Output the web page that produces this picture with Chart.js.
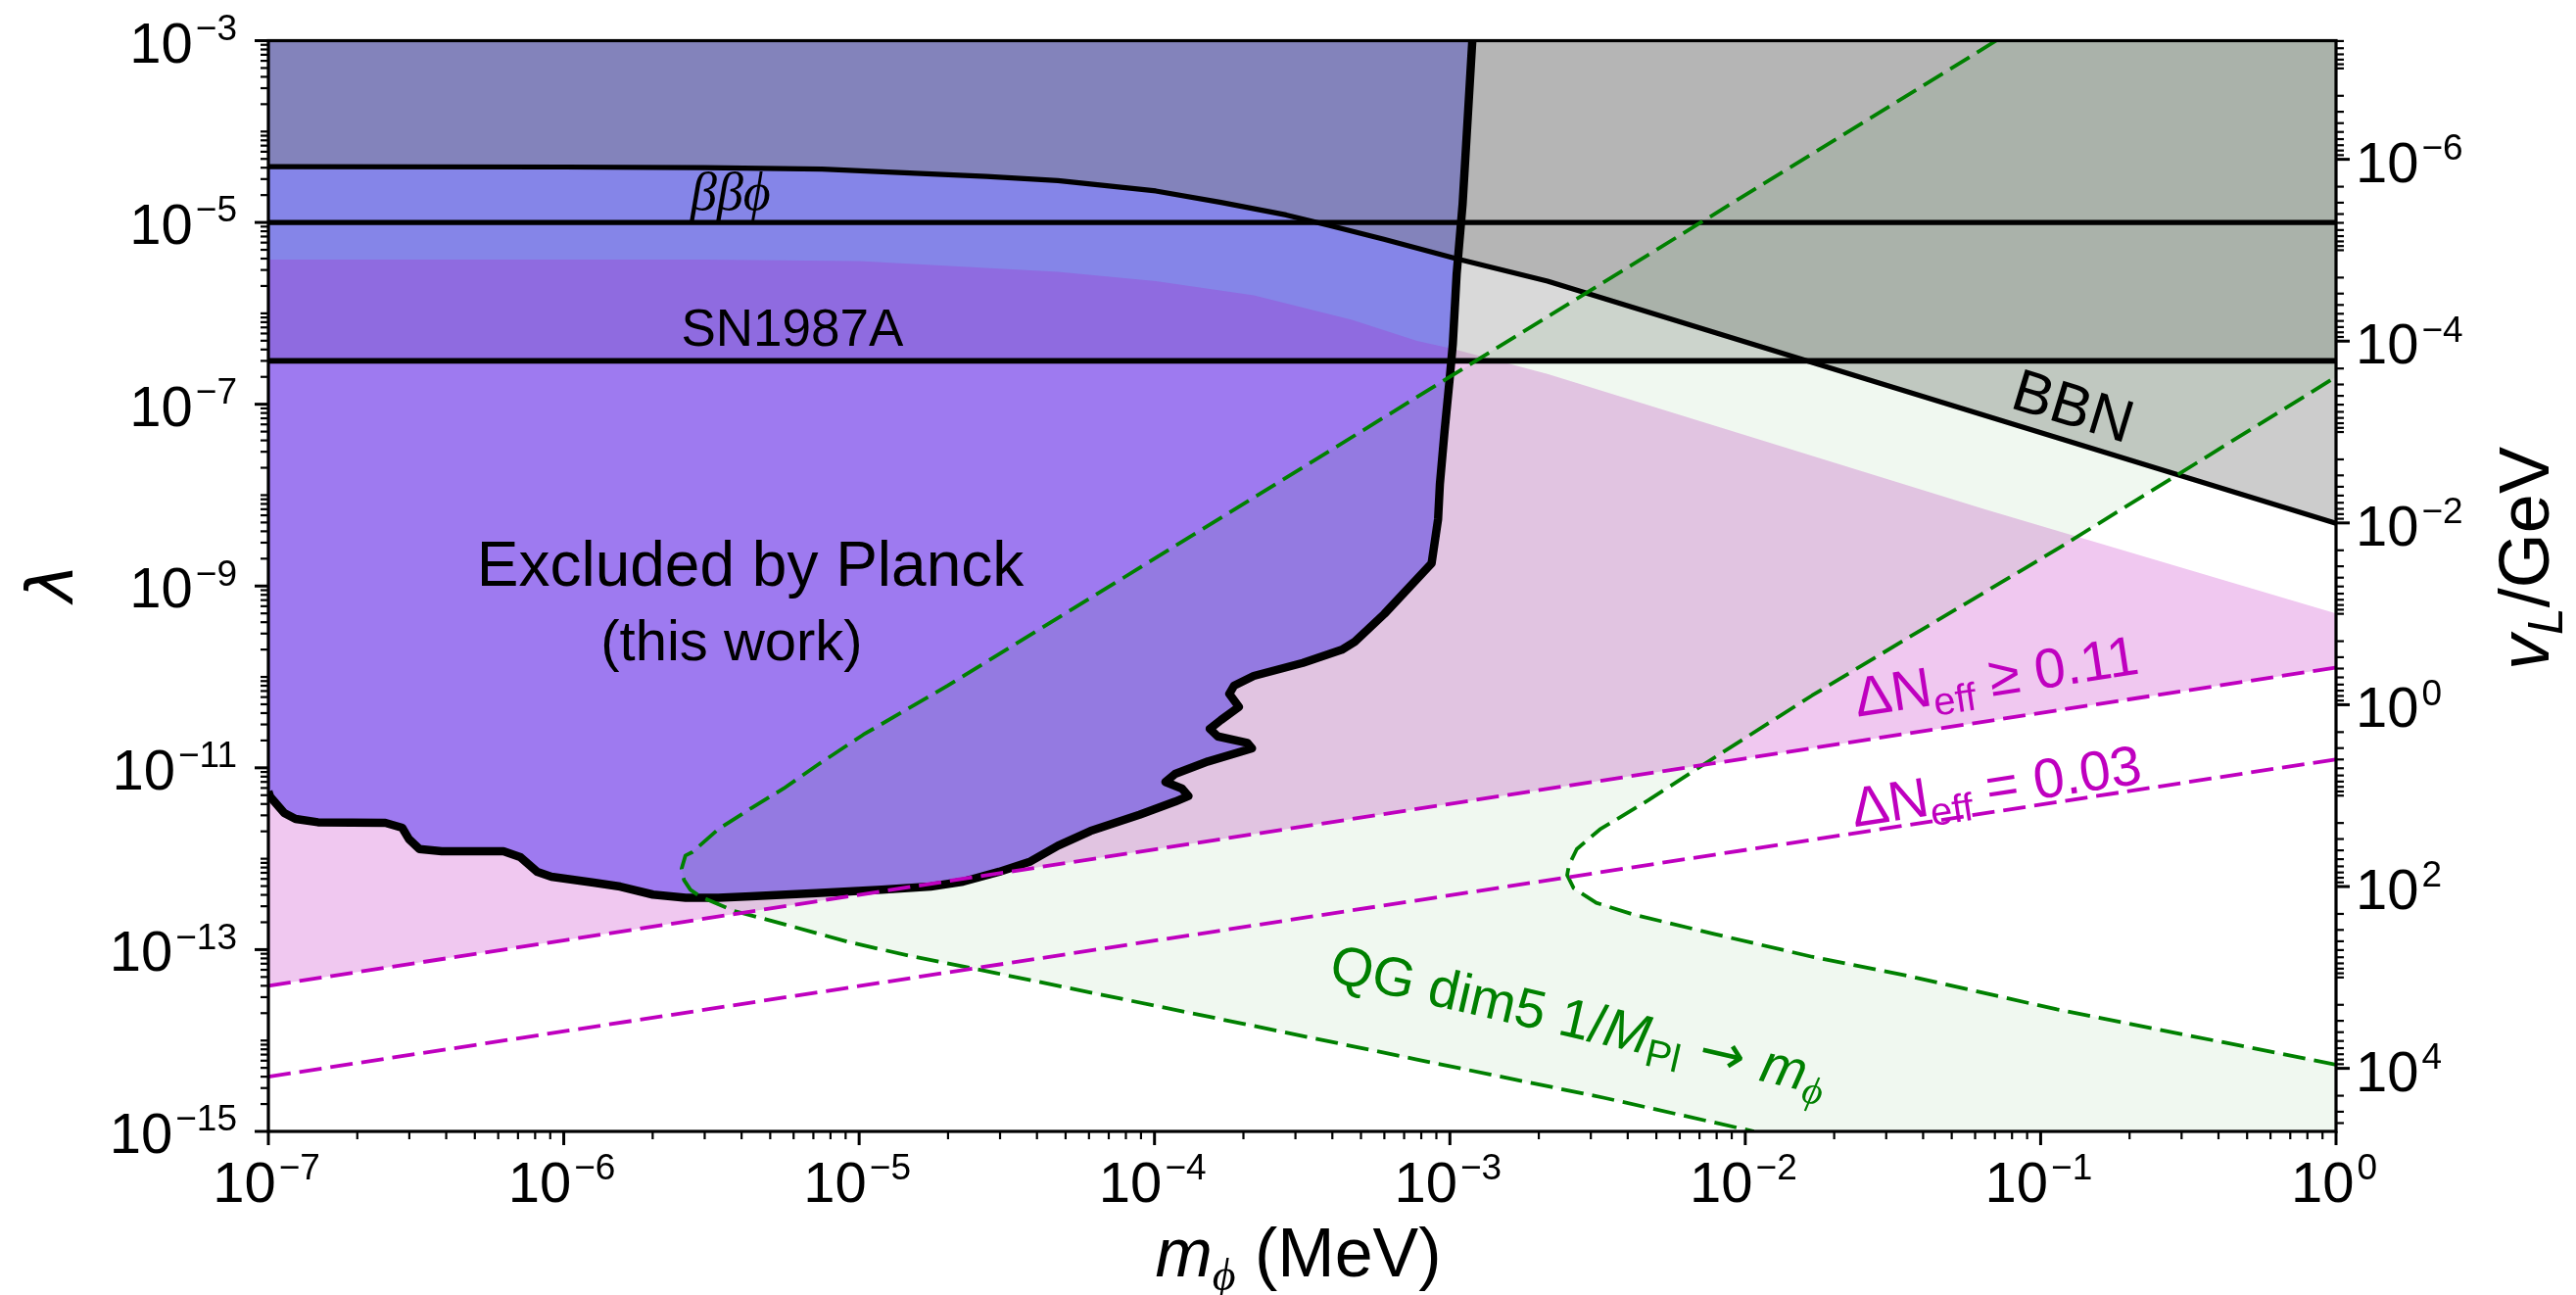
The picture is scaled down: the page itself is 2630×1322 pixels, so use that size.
<!DOCTYPE html>
<html>
<head>
<meta charset="utf-8">
<script src="https://cdn.jsdelivr.net/npm/chart.js@4.4.1/dist/chart.umd.min.js"></script>
<style>
html,body{margin:0;padding:0;background:#fff;}
#wrap{width:2630px;height:1322px;position:relative;}
</style>
</head>
<body>
<div id="wrap"><canvas id="c" width="2630" height="1322"></canvas></div>
<script>
// ---------------- data (m_phi in MeV, lambda) ----------------
const X_MIN = 1e-7, X_MAX = 1, Y_MIN = 1e-15, Y_MAX = 1e-3;
const VL_TOP = 4.95e-8, VL_BOTTOM = 4.94e4;           // right axis v_L/GeV limits

const xTickExp = [-7, -6, -5, -4, -3, -2, -1, 0];
const yTickExp = [-15, -13, -11, -9, -7, -5, -3];
const vlTickExp = [-6, -4, -2, 0, 2, 4];

// Planck exclusion boundary (thick black)
const planckCurve = [
 [1e-7,5.50e-12],[1.014e-7,4.81e-12],[1.132e-7,3.18e-12],[1.236e-7,2.74e-12],[1.472e-7,2.52e-12],
 [2.489e-7,2.48e-12],[2.838e-7,2.19e-12],[2.992e-7,1.64e-12],[3.243e-7,1.28e-12],[3.864e-7,1.21e-12],
 [6.25e-7,1.21e-12],[7.13e-7,1.04e-12],[8.13e-7,7.18e-13],[9.08e-7,6.34e-13],[1.262e-6,5.46e-13],
 [1.552e-6,4.94e-13],[2.005e-6,4.03e-13],[2.588e-6,3.71e-13],[3.334e-6,3.71e-13],[4.305e-6,3.85e-13],
 [7.16e-6,4.19e-13],[1.191e-5,4.55e-13],[1.746e-5,4.94e-13],[2.249e-5,5.60e-13],[2.979e-5,7.18e-13],
 [3.80e-5,9.33e-13],[4.71e-5,1.39e-12],[6.07e-5,2.02e-12],[8.89e-5,3.05e-12],[1.175e-4,4.25e-12],
 [1.303e-4,4.89e-12],[1.239e-4,5.92e-12],[1.089e-4,6.98e-12],[1.175e-4,8.57e-12],[1.517e-4,1.175e-11],
 [2.138e-4,1.637e-11],[2.061e-4,1.884e-11],[1.637e-4,2.218e-11],[1.538e-4,2.685e-11],[1.679e-4,3.357e-11],
 [1.932e-4,4.677e-11],[1.791e-4,6.516e-11],[1.858e-4,8.0e-11],[2.168e-4,1.026e-10],[3.177e-4,1.426e-10],
 [4.305e-4,1.991e-10],[4.764e-4,2.443e-10],[5.998e-4,4.93e-10],[8.67e-4,1.778e-9],[9.02e-4,4.25e-9],
 [9.12e-4,5.43e-9],[9.25e-4,1.327e-8],[9.59e-4,4.99e-8],[9.98e-4,1.884e-7],
 [1.023e-3,4.57e-7],[1.054e-3,2.69e-6],[1.104e-3,1.58e-5],[1.191e-3,1e-3]
];
// where the Planck edge meets the SN line, the Delta N_eff top edge and the BBN line
const snCross = [1.011e-3, 3e-7];
const pinkCross = [1.020e-3, 4.07e-7];
const bbnCross = [1.065e-3, 3.95e-6];

// BBN bound
const bbnLine = [
 [1e-7,4.1e-5],[1e-6,4.07e-5],[3e-6,4.0e-5],[7.5e-6,3.86e-5],[2.7e-5,3.2e-5],[4.71e-5,2.89e-5],
 [1.01e-4,2.22e-5],[1.68e-4,1.66e-5],[2.79e-4,1.21e-5],[3.89e-4,9.3e-6],[5.98e-4,6.52e-6],
 [1.05e-3,4.0e-6],[2.14e-3,2.26e-6],[1,4.9e-9]
];
// upper edge of the Delta N_eff >= 0.11 region
const pinkTop = [
 [1e-7,3.9e-6],[3e-6,3.9e-6],[1e-5,3.75e-6],[4.71e-5,2.86e-6],[1.01e-4,2.26e-6],[2.17e-4,1.58e-6],
 [4.66e-4,8.5e-7],[7.74e-4,4.99e-7],[1.02e-3,4.07e-7],[2.14e-3,2.15e-7],[6.49e-2,6.97e-9],[1,5.0e-10]
];
// Delta N_eff lines
const neff011 = [[1e-7,4.0e-14],[1,1.27e-10]];
const neff003 = [[1e-7,4.0e-15],[1,1.24e-11]];
// horizontal bounds
const snLine = [[1e-7,3e-7],[1,3e-7]];
const bbphiLine = [[1e-7,1e-5],[1,1e-5]];
// QG dim5 curves (green dashed)
const qgA = [
 [0.0707,1e-3],[7.83e-5,1.227e-9],[1.995e-5,8.02e-11],[1.033e-5,2.317e-11],[7.16e-6,1.054e-11],
 [5.55e-6,5.92e-12],[4.31e-6,3.60e-12],[3.33e-6,2.10e-12],[2.72e-6,1.178e-12],[2.582e-6,1.084e-12],
 [2.506e-6,7.78e-13],[2.553e-6,5.83e-13],[2.685e-6,4.55e-13],[2.897e-6,3.85e-13],[3.78e-6,2.66e-13],
 [5.55e-6,1.91e-13],[9.23e-6,1.21e-13],[1.535e-5,8.34e-14],[2.904e-5,5.52e-14],[1.977e-4,1.538e-14],
 [7.73e-4,6.19e-15],[3.33e-3,2.34e-15],[1.07e-2,1e-15]
];
const qgB = [
 [1,5.43e-15],[0.1135,2.198e-14],[3.61e-2,5.08e-14],[1.683e-2,8.34e-14],[7.83e-3,1.489e-13],
 [4.15e-3,2.45e-13],[3.13e-3,3.27e-13],[2.624e-3,4.74e-13],[2.495e-3,6.61e-13],[2.529e-3,8.47e-13],
 [2.69e-3,1.279e-12],[3.22e-3,2.10e-12],[4.71e-3,4.43e-12],[7.26e-3,1.099e-11],[1.683e-2,6.25e-11],
 [3.61e-2,2.77e-10],[0.1135,2.54e-9],[1,2.0e-7]
];

// ---------------- regions built from the arrays ----------------
const TL = [X_MIN, Y_MAX], TR = [X_MAX, Y_MAX], BR = [X_MAX, Y_MIN];
const planckAbove = (lam) => planckCurve.filter(p => p[1] > lam);
const pinkRegion = [...pinkTop, neff011[1], neff011[0]];
const snRegion = [snLine[0], snLine[1], TR, TL];
const bbnRegion = [...bbnLine, TR, TL];
const planckD = [...planckCurve, TL];
const planckC = [snLine[0], snCross, ...planckAbove(snCross[1]), TL];
const planckB = [...pinkTop.filter(p => p[0] <= pinkCross[0]), ...planckAbove(pinkCross[1]), TL];
const planckA = [...bbnLine.filter(p => p[0] < bbnCross[0]), bbnCross, ...planckAbove(bbnCross[1]), TL];
const qgRegion = [...qgA, BR, ...qgB, TR];

const xy = a => a.map(p => ({x: p[0], y: p[1]}));
function region(d, color, order) {
  return {data: xy(d), backgroundColor: color, borderColor: 'rgba(0,0,0,0)', borderWidth: 0,
          fill: 'shape', pointRadius: 0, order, clip: 0, tension: 0};
}
function curve(d, color, width, dash, order) {
  return {data: xy(d), borderColor: color, borderWidth: width, borderDash: dash || [],
          backgroundColor: 'rgba(0,0,0,0)', fill: false, pointRadius: 0, order, clip: 0, tension: 0,
          borderCapStyle: 'butt', borderJoinStyle: 'round'};
}
const MAG = '#bf00bf', GRN = '#008000', DASH = [23, 9];
const datasets = [
  region(pinkRegion, 'rgb(240,200,240)', 40),
  region(snRegion, 'rgba(128,128,128,0.3)', 39),
  region(bbnRegion, 'rgba(128,128,128,0.4)', 38),
  region(planckD, 'rgb(158,122,240)', 37),
  region(planckC, 'rgb(143,107,224)', 36),
  region(planckB, 'rgb(133,133,232)', 35),
  region(planckA, 'rgb(131,131,187)', 34),
  region(qgRegion, 'rgba(0,128,0,0.06)', 33),
  curve(bbphiLine, '#000', 5.2, null, 12),
  curve(snLine, '#000', 5.8, null, 11),
  curve(bbnLine, '#000', 5.2, null, 10),
  curve(planckCurve, '#000', 8.5, null, 9),
  curve(qgB, GRN, 3.8, DASH, 8),
  curve(qgA, GRN, 3.8, DASH, 7),
  curve(neff003, MAG, 3.8, DASH, 6),
  curve(neff011, MAG, 3.8, DASH, 5)
];

// ---------------- text helpers ----------------
const SANS = '"Liberation Sans", Arial, Helvetica, sans-serif';
const SERIF = '"Liberation Serif", "DejaVu Serif", serif';
function runs(ctx, list, x, y, opt) {
  opt = opt || {};
  ctx.save();
  ctx.translate(x, y);
  if (opt.rot) ctx.rotate(opt.rot * Math.PI / 180);
  ctx.fillStyle = opt.color || '#000';
  ctx.textBaseline = 'alphabetic';
  ctx.textAlign = 'left';
  const w = list.map(r => { ctx.font = r.f; return ctx.measureText(r.t).width + (r.dx || 0); });
  const total = w.reduce((s, v) => s + v, 0);
  let cx = opt.align === 'center' ? -total / 2 : (opt.align === 'right' ? -total : 0);
  const by = opt.by || 0;
  list.forEach((r, i) => { ctx.font = r.f; ctx.fillText(r.t, cx + (r.dx || 0), by + (r.dy || 0)); cx += w[i]; });
  ctx.restore();
}
function powLabel(e) {
  const s = e < 0 ? '\u2212' + (-e) : String(e);
  return [{t: '10', f: '58px ' + SANS}, {t: s, f: '37px ' + SANS, dy: -22.6, dx: 3}];
}

const annotations = [
  {x: 3.67e-6, y: 1.38e-5, rot: 0, color: '#000', by: 0,
   list: [{t: '\u03b2\u03b2\u03d5', f: 'italic 54px ' + SERIF}]},
  {x: 5.94e-6, y: 4.40e-7, rot: 0, color: '#000', by: 0,
   list: [{t: 'SN1987A', f: '53px ' + SANS}]},
  {x: 4.28e-6, y: 1.007e-9, rot: 0, color: '#000', by: 0,
   list: [{t: 'Excluded by Planck', f: '64px ' + SANS}]},
  {x: 3.70e-6, y: 1.53e-10, rot: 0, color: '#000', by: 0,
   list: [{t: '(this work)', f: '58px ' + SANS}]},
  {x: 0.129, y: 9.68e-8, rot: 17, color: '#000', by: 21,
   list: [{t: 'BBN', f: '61px ' + SANS}]},
  {x: 0.0706, y: 1.03e-10, rot: -8.7, color: MAG, by: 20,
   list: [{t: '\u0394N', f: '57px ' + SANS}, {t: 'eff', f: '40px ' + SANS, dy: 11},
          {t: ' \u2265 0.11', f: '57px ' + SANS}]},
  {x: 0.0706, y: 6.38e-12, rot: -8.7, color: MAG, by: 20,
   list: [{t: '\u0394N', f: '57px ' + SANS}, {t: 'eff', f: '40px ' + SANS, dy: 11},
          {t: ' = 0.03', f: '57px ' + SANS}]},
  {x: 2.74e-3, y: 1.73e-14, rot: 13, color: GRN, by: 20,
   list: [{t: 'QG dim5 1/', f: '56px ' + SANS}, {t: 'M', f: 'italic 56px ' + SANS},
          {t: 'Pl', f: '40px ' + SANS, dy: 11}, {t: ' \u2192 ', f: '56px "DejaVu Sans", sans-serif'},
          {t: 'm', f: 'italic 56px ' + SANS}, {t: '\u03d5', f: 'italic 40px ' + SERIF, dy: 11}]}
];

const decor = {
  id: 'decor',
  afterDatasetsDraw(chart) {
    const ctx = chart.ctx, a = chart.chartArea;
    const sx = chart.scales.x, sy = chart.scales.y, sv = chart.scales.y2;
    // annotations
    annotations.forEach(an => {
      runs(ctx, an.list, sx.getPixelForValue(an.x), sy.getPixelForValue(an.y),
           {align: 'center', rot: an.rot, color: an.color, by: an.by});
    });
    ctx.save();
    ctx.strokeStyle = '#000';
    // frame
    ctx.lineWidth = 3.2;
    ctx.strokeRect(a.left, a.top, a.right - a.left, a.bottom - a.top);
    const tick = (x1, y1, x2, y2, w) => { ctx.lineWidth = w; ctx.beginPath(); ctx.moveTo(x1, y1); ctx.lineTo(x2, y2); ctx.stroke(); };
    // x ticks
    for (let k = -7; k <= 0; k++) {
      const px = sx.getPixelForValue(Math.pow(10, k));
      tick(px, a.bottom, px, a.bottom + 14, 3);
      if (k < 0) for (let j = 2; j <= 9; j++) {
        const p2 = sx.getPixelForValue(j * Math.pow(10, k));
        tick(p2, a.bottom, p2, a.bottom + 8, 2.2);
      }
    }
    // left y ticks
    for (let k = -15; k <= -3; k++) {
      for (let j = 1; j <= 9; j++) {
        const v = j * Math.pow(10, k);
        if (v > Y_MAX * 1.0001) continue;
        const py = sy.getPixelForValue(v);
        const major = (j === 1 && yTickExp.includes(k));
        tick(a.left, py, a.left - (major ? 14 : 8), py, major ? 3 : 2.2);
      }
    }
    // right y ticks (v_L)
    for (let k = -8; k <= 4; k++) {
      for (let j = 1; j <= 9; j++) {
        const v = j * Math.pow(10, k);
        if (v < VL_TOP || v > VL_BOTTOM) continue;
        const py = sv.getPixelForValue(v);
        const major = (j === 1 && vlTickExp.includes(k));
        tick(a.right, py, a.right + (major ? 14 : 8), py, major ? 3 : 2.2);
      }
    }
    ctx.restore();
    // tick labels
    xTickExp.forEach(e => runs(ctx, powLabel(e), sx.getPixelForValue(Math.pow(10, e)) - 2, a.bottom + 72, {align: 'center'}));
    yTickExp.forEach(e => runs(ctx, powLabel(e), a.left - 32, sy.getPixelForValue(Math.pow(10, e)) + 22, {align: 'right'}));
    vlTickExp.forEach(e => runs(ctx, powLabel(e), a.right + 20, sv.getPixelForValue(Math.pow(10, e)) + 23, {align: 'left'}));
    // axis titles
    runs(ctx, [{t: 'm', f: 'italic 70px ' + SANS}, {t: '\u03d5', f: 'italic 46px ' + SERIF, dy: 14},
               {t: ' (MeV)', f: '70px ' + SANS}], (a.left + a.right) / 2 - 4, 1303, {align: 'center'});
    runs(ctx, [{t: '\u03bb', f: 'italic 66px "DejaVu Sans", sans-serif'}], 74, (a.top + a.bottom) / 2 - 3,
         {align: 'center', rot: -90});
    runs(ctx, [{t: 'v', f: 'italic 72px ' + SANS}, {t: 'L', f: 'italic 50px ' + SANS, dy: 14},
               {t: '/GeV', f: '72px ' + SANS}], 2602, 570, {align: 'center', rot: -90});
  }
};

new Chart(document.getElementById('c').getContext('2d'), {
  type: 'line',
  data: {datasets},
  options: {
    responsive: false, animation: false, devicePixelRatio: 1, events: [],
    layout: {padding: {left: 274, right: 245, top: 41.5, bottom: 167}},
    plugins: {legend: {display: false}, tooltip: {enabled: false}},
    scales: {
      x: {type: 'logarithmic', min: X_MIN, max: X_MAX, display: false},
      y: {type: 'logarithmic', min: Y_MIN, max: Y_MAX, display: false},
      y2: {type: 'logarithmic', position: 'right', reverse: true, min: VL_TOP, max: VL_BOTTOM, display: false}
    }
  },
  plugins: [decor]
});
</script>
</body>
</html>
